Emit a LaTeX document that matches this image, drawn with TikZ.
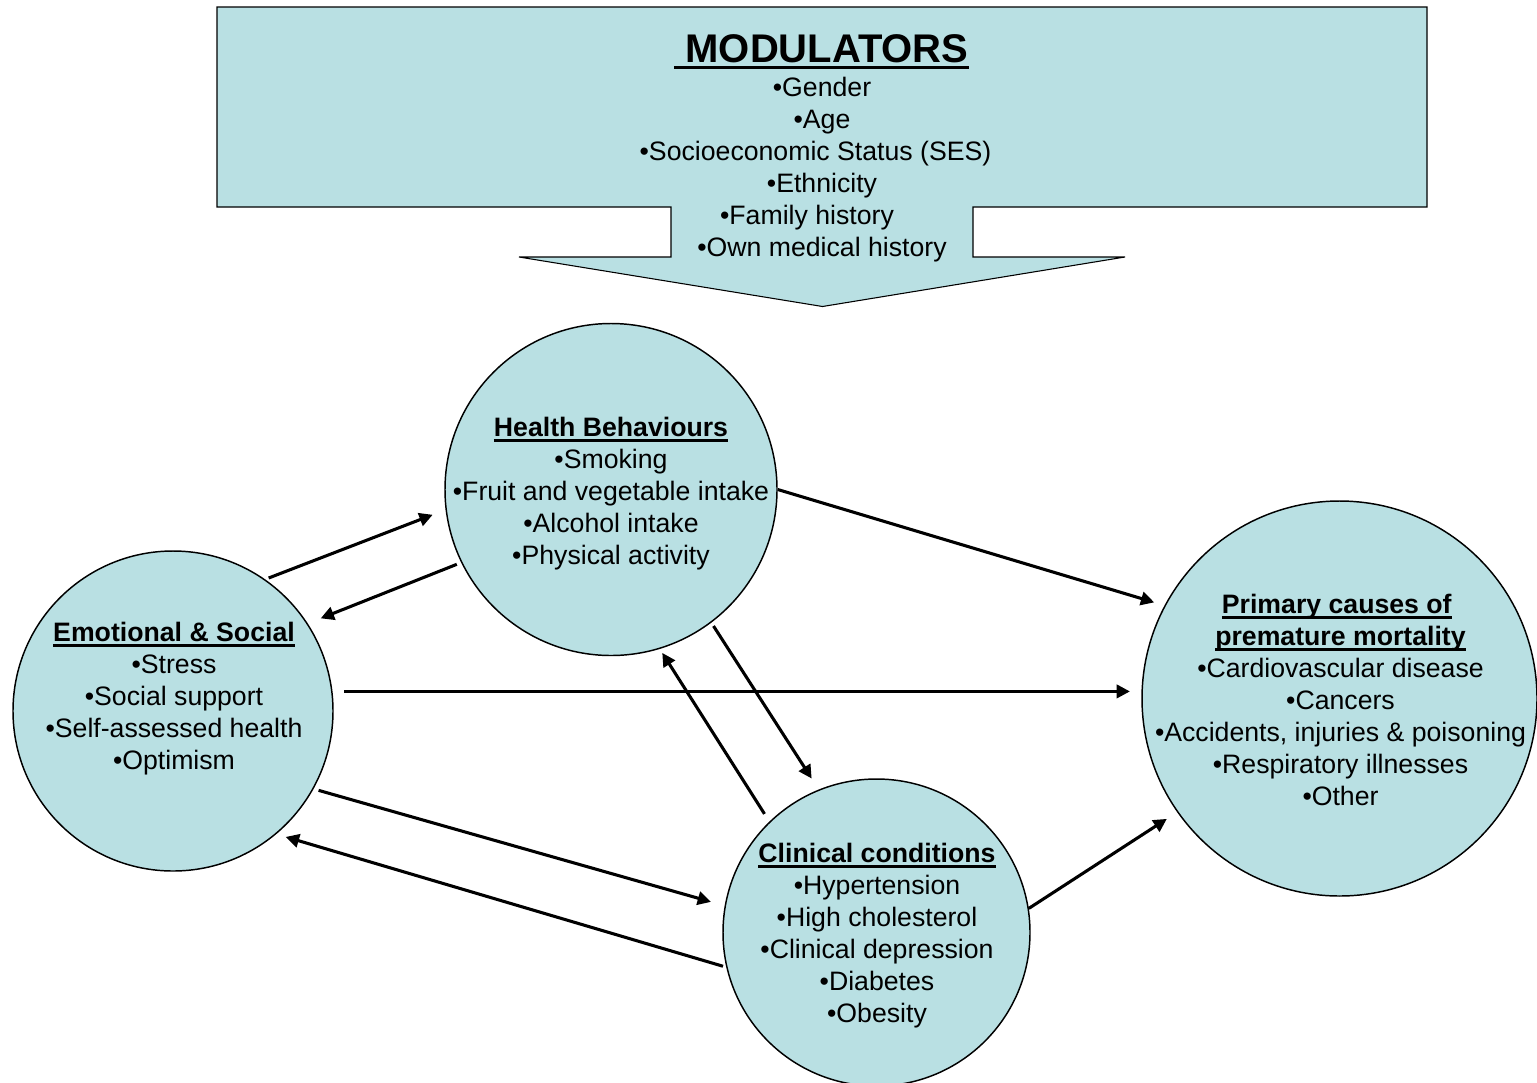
\documentclass[tikz,border=0pt]{standalone}
\usepackage{fontspec}
\setmainfont{Liberation Sans}
\usetikzlibrary{arrows.meta}
\definecolor{cfill}{RGB}{185,224,227}
\newcommand\ulhead[1]{\leavevmode\setbox0=\hbox{\bfseries #1}\rlap{\rule[-4.3pt]{\wd0}{2.1pt}}\box0}
\newcommand\ulbig[1]{\leavevmode\setbox0=\hbox{\bfseries #1}\rlap{\rule[-5.5pt]{\wd0}{2.5pt}}\box0}
\newcommand\trail[1]{\hbox to #1{}}
\tikzset{
  blob/.style={circle, draw=black, line width=1.1pt, fill=cfill, inner sep=0pt},
  txt/.style={align=center, font=\fontsize{20}{24}\selectfont, inner sep=0pt, anchor=base},
  arr/.style={line width=2.3pt, -{Triangle[length=10pt,width=10pt]}},
  banner/.style={draw=black, line width=0.8pt, fill=cfill}
}
\begin{document}
\begin{tikzpicture}[x=0.75pt, y=-0.75pt]
\useasboundingbox (0,0) rectangle (1537,1082);
% Modulators block arrow
\draw[banner] (217,7) -- (1427,7) -- (1427,207) -- (973,207) -- (973,257) -- (1125,257)
  -- (822.5,306.5) -- (519,257) -- (671,257) -- (671,207) -- (217,207) -- cycle;
% circles
\node[blob, minimum size=249pt] (hb) at (611,489.5) {};
\node[blob, minimum size=240pt] (es) at (173,711) {};
\node[blob, minimum size=230.25pt] (cc) at (876.5,932.5) {};
\node[blob, minimum size=296.25pt] (pc) at (1339.5,698.5) {};
% connectors
\draw[arr, shorten <=2.8pt, shorten >=10.3pt] (es.55) -- (hb.187.8);
\draw[arr, shorten <=3.5pt, shorten >=10.4pt] (hb.206.3) -- (es.33.5);
\draw[arr, shorten >=8pt] (hb.0.2) -- (pc.152.4);
\draw[arr, shorten <=8.6pt, shorten >=8.5pt] (es.7.54) -- (es.7.54 -| pc.west);
\draw[arr, shorten <=3pt, shorten >=9.8pt] (hb.-53.97) -- (cc.112.8);
\draw[arr, shorten <=6.8pt, shorten >=3.5pt] (cc.134.75) -- (hb.-73.3);
\draw[arr, shorten <=3.9pt, shorten >=10.6pt] (es.-29.36) -- (cc.170.9);
\draw[arr, shorten <=2.5pt, shorten >=7.4pt] (cc.193.5) -- (es.-50.97);
\draw[arr, shorten >=9.2pt] (cc.9.9) -- (pc.-145.3);
% texts (anchor = baseline of the last line)
\node[txt, font=\fontsize{30}{36}\selectfont] (modtitle) at (821.5,62) {\ulbig{\ MODULATORS}};
\node[txt] (modlist) at (822,256.7) {•Gender\\•Age\\•Socioeconomic Status (SES)\trail{9.75pt}\\•Ethnicity\\•Family history\trail{22.5pt}\\•Own medical history};
\node[txt] (hbtext) at (611,564) {\ulhead{Health Behaviours}\\•Smoking\\•Fruit and vegetable intake\\•Alcohol intake\\•Physical activity};
\node[txt] (estext) at (174,769) {\ulhead{Emotional \& Social}\\•Stress\\•Social support\\•Self-assessed health\\•Optimism};
\node[txt] (cctext) at (877,1022) {\ulhead{Clinical conditions}\\•Hypertension\\•High cholesterol\\•Clinical depression\\•Diabetes\\•Obesity};
\node[txt] (pctext) at (1340.5,805) {\ulhead{Primary causes of}\trail{5.6pt}\\\ulhead{premature mortality}\\•Cardiovascular disease\\•Cancers\\•Accidents, injuries \& poisoning\\•Respiratory illnesses\\•Other};
\end{tikzpicture}
\end{document}
